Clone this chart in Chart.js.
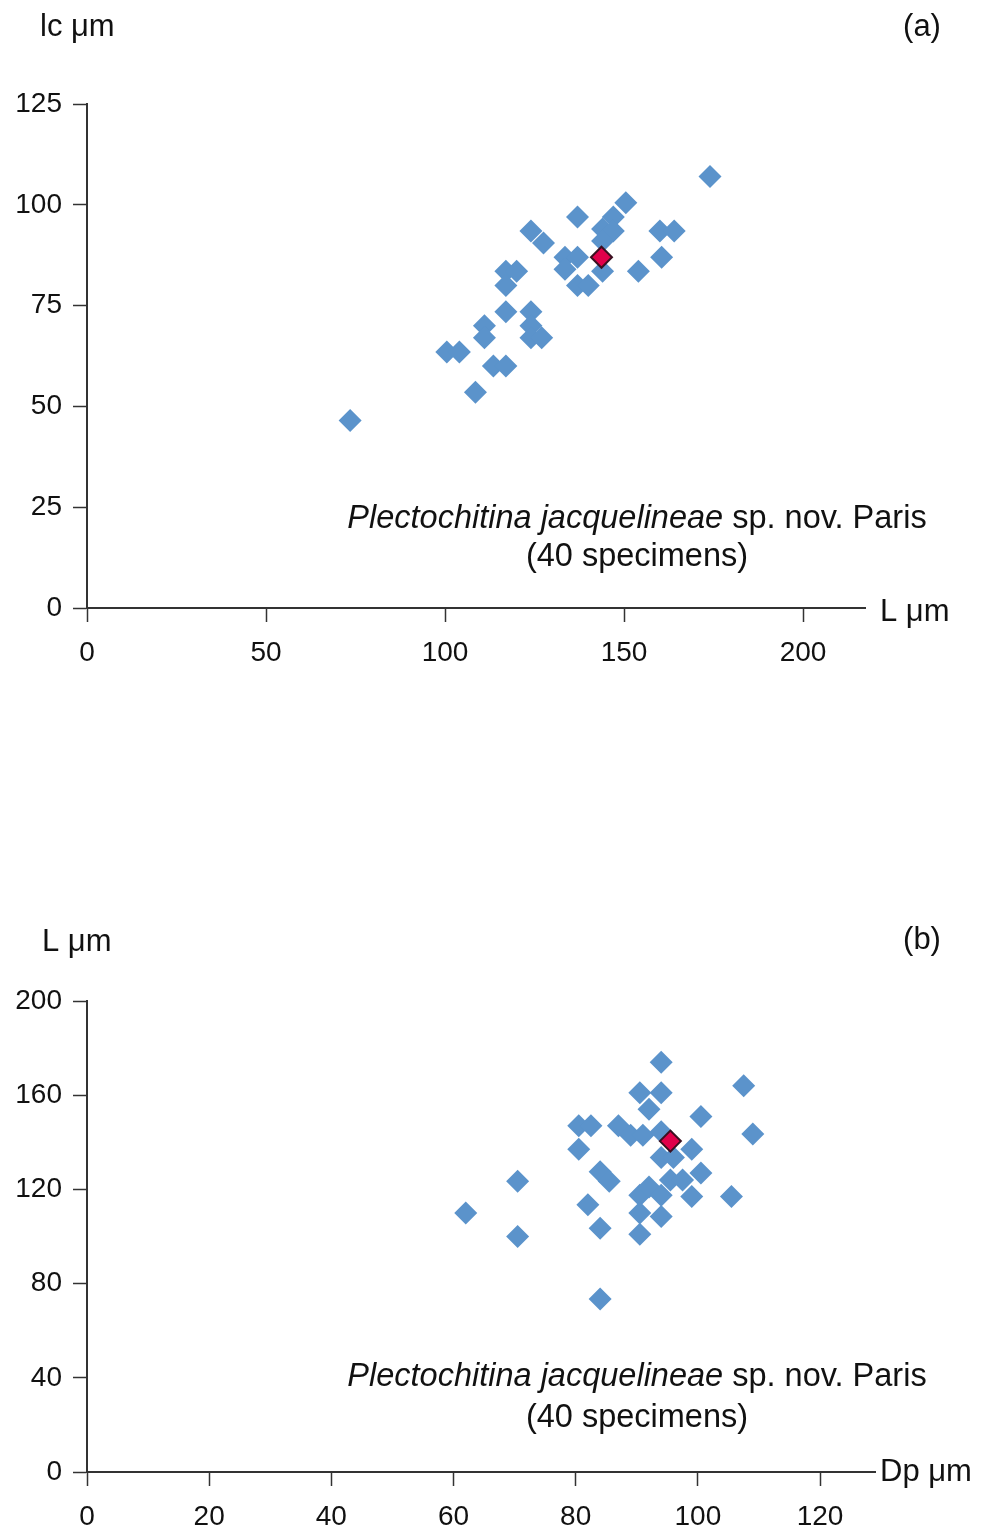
<!DOCTYPE html>
<html>
<head>
<meta charset="utf-8">
<script src="https://cdn.jsdelivr.net/npm/chart.js@4.4.1/dist/chart.umd.min.js"></script>
<style>
  html, body { margin: 0; padding: 0; background: #fff; }
  canvas { position: absolute; left: 0; }
</style>
</head>
<body>
<canvas id="chartA" width="997" height="700" style="top:0"></canvas>
<canvas id="chartB" width="997" height="635" style="top:900px"></canvas>
<script>
// (a) Lc vs L, 40 specimens
const lengthA = [174, 150.5, 137, 147, 144, 147, 144, 144, 160, 164, 160.5, 154, 124, 127.5, 133.5, 137, 133.5, 137, 140,
  117, 120, 117, 117, 124, 124, 124, 127, 111, 111, 100.5, 104, 113.5, 117, 108.5, 73.5];
const lcA = [107, 100.5, 97, 97, 94, 93.5, 91, 83.5, 93.5, 93.5, 87, 83.5, 93.5, 90.5, 87, 87, 84, 80, 80,
  83.5, 83.5, 80, 73.5, 73.5, 70, 67, 67, 70, 67, 63.5, 63.5, 60, 60, 53.5, 46.5];
const meanA = [143.7, 87];

// (b) L vs Dp
const dpB = [94, 107.5, 90.5, 94, 92, 100.5, 80.5, 82.5, 87, 89, 91, 94, 99, 109, 80.5, 94, 96, 100.5, 84, 85.5,
  95.5, 97.5, 90.5, 92, 94, 90.5, 94, 99, 105.5, 70.5, 62, 70.5, 82, 84, 90.5, 84];
const lengthB = [174, 164, 161, 161, 154, 151, 147, 147, 147, 143, 143, 144.5, 137, 143.5, 137, 133.5, 133.5, 127, 127.5, 123.5,
  124, 124, 117.5, 121, 117.5, 110, 108.5, 117, 117, 123.5, 110, 100, 113.5, 103.5, 101, 73.5];
const meanB = [95.5, 140.5];

const FONT = "'Liberation Sans', Arial, sans-serif";
const BLUE = '#5b93cb';
const RED = '#e0004a';

// text drawn on top: axis names, panel letter, species note
const figText = {
  id: 'figText',
  afterDraw(chart, args, opts) {
    const ctx = chart.ctx;
    ctx.save();
    ctx.fillStyle = '#111';
    ctx.textBaseline = 'middle';
    ctx.font = `31px ${FONT}`;
    opts.labels.forEach(l => {
      ctx.textAlign = l.align || 'left';
      ctx.fillText(l.text, l.x, l.y);
    });
    // species line: italic genus/species + plain rest
    const n = opts.note;
    ctx.textAlign = 'left';
    const it = `italic 32.5px ${FONT}`, rg = `32.5px ${FONT}`;
    ctx.font = it;
    const w1 = ctx.measureText('Plectochitina jacquelineae').width;
    ctx.font = rg;
    const w2 = ctx.measureText(' sp. nov. Paris').width;
    let x0 = n.cx - (w1 + w2) / 2;
    ctx.font = it;
    ctx.fillText('Plectochitina jacquelineae', x0, n.y1);
    ctx.font = rg;
    ctx.fillText(' sp. nov. Paris', x0 + w1, n.y1);
    ctx.textAlign = 'center';
    ctx.fillText('(40 specimens)', n.cx, n.y2);
    ctx.restore();
  }
};

function xAxis(max, step, h) {
  return {
    type: 'linear', position: 'bottom', min: 0, max: max,
    grid: { drawOnChartArea: false, tickLength: 14, color: '#333', tickWidth: 1.5 },
    border: { color: '#333', width: 2 },
    ticks: { stepSize: step, includeBounds: false, padding: 14, color: '#111', maxRotation: 0,
      font: { family: FONT, size: 28 } },
    afterFit: s => { s.height = h; }
  };
}

function yAxis(max, step) {
  return {
    type: 'linear', min: 0, max: max,
    grid: { drawOnChartArea: false, tickLength: 14, color: '#333', tickWidth: 1.5 },
    border: { color: '#333', width: 2 },
    ticks: { stepSize: step, padding: 11, color: '#111', font: { family: FONT, size: 28 } },
    afterFit: s => { s.width = 87; }
  };
}

function makeChart(id, xs, ys, mean, opts) {
  const pts = xs.map((x, i) => ({ x: x, y: ys[i] }));
  new Chart(document.getElementById(id), {
    type: 'scatter',
    data: {
      datasets: [
        { data: [{ x: mean[0], y: mean[1] }], pointStyle: 'rectRot', pointRadius: 10.5,
          backgroundColor: RED, borderColor: '#3a1020', borderWidth: 2 },
        { data: pts, pointStyle: 'rectRot', pointRadius: 11.5,
          backgroundColor: BLUE, borderColor: BLUE, borderWidth: 0 }
      ]
    },
    options: {
      responsive: false,
      animation: false,
      layout: { padding: opts.padding },
      scales: { x: opts.x, y: opts.y },
      plugins: {
        legend: { display: false },
        tooltip: { enabled: false },
        figText: opts.text
      }
    },
    plugins: [figText]
  });
}

makeChart('chartA', lengthA, lcA, meanA, {
  padding: { left: 0, top: 104, right: 132, bottom: 0 },
  x: xAxis(217.3, 50, 92),
  y: yAxis(125, 25),
  text: {
    labels: [
      { text: 'lc μm', x: 40, y: 27 },
      { text: '(a)', x: 922, y: 27, align: 'center' },
      { text: 'L μm', x: 880, y: 612 }
    ],
    note: { cx: 637, y1: 519, y2: 557 }
  }
});

makeChart('chartB', dpB, lengthB, meanB, {
  padding: { left: 0, top: 101, right: 122, bottom: 0 },
  x: xAxis(129, 20, 63),
  y: yAxis(200, 40),
  text: {
    labels: [
      { text: 'L μm', x: 42, y: 942 - 900 },
      { text: '(b)', x: 922, y: 40, align: 'center' },
      { text: 'Dp μm', x: 880, y: 572 }
    ],
    note: { cx: 637, y1: 477, y2: 518 }
  }
});
</script>
</body>
</html>
